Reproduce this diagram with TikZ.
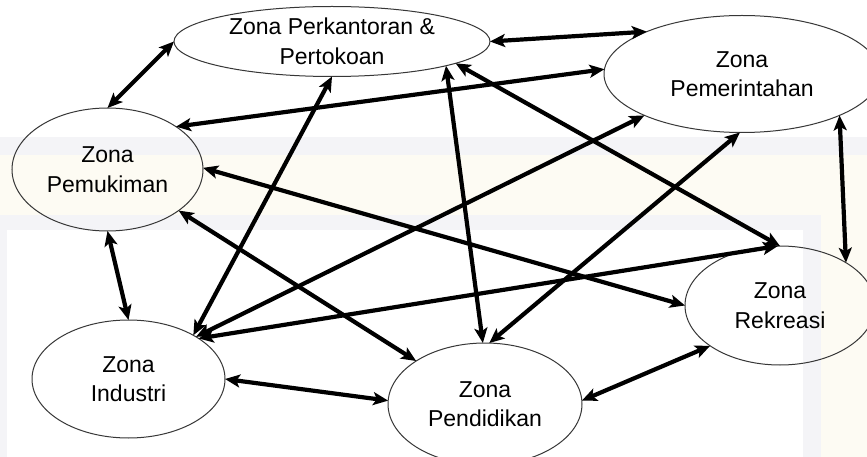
\documentclass[tikz,border=0pt]{standalone}
\usepackage{fontspec}
\setmainfont{Liberation Sans}
\usetikzlibrary{shapes.geometric,arrows.meta}
\definecolor{wmgray}{RGB}{244,244,247}
\definecolor{wmcream}{RGB}{253,251,243}
\definecolor{ringcol}{RGB}{55,55,55}
\tikzset{
  zone/.style={ellipse, draw=ringcol, line width=1pt, inner sep=0pt, outer sep=0pt,
    align=center, font=\fontsize{23}{29.5}\selectfont},
  link/.style={line width=4.2pt, black,
    {Stealth[length=15pt,width=13pt,inset=3.5pt]}-{Stealth[length=15pt,width=13pt,inset=3.5pt]}}
}
\begin{document}
\begin{tikzpicture}[x=1pt,y=-1pt]
\useasboundingbox (0,0) rectangle (867,457);
\clip (0,0) rectangle (867,457);
% faint watermark background
\fill[white] (0,0) rectangle (867,457);
\fill[wmgray] (0,137) rectangle (867,155);
\fill[wmcream] (0,155) rectangle (867,457);
\fill[wmgray] (0,215) rectangle (821,457);
\fill[white] (7,230) rectangle (803,457);
% zones
\node[zone, minimum width=316pt, minimum height=70pt] (kant) at (332,41.5) {Zona Perkantoran \&\\Pertokoan};
\node[zone, minimum width=276pt, minimum height=117pt] (pmr) at (742,74) {Zona\\Pemerintahan};
\node[zone, minimum width=191pt, minimum height=123pt] (muk) at (107.5,169.5) {Zona\\Pemukiman};
\node[zone, minimum width=193pt, minimum height=118pt] (ind) at (128.5,379) {Zona\\Industri};
\node[zone, minimum width=194pt, minimum height=122pt] (ddk) at (485,404) {Zona\\Pendidikan};
\node[zone, minimum width=190pt, minimum height=119pt] (rek) at (780,305.5) {Zona\\Rekreasi};
% connectors
\draw[link] (muk.90) -- (kant.180);
\draw[link] (kant.0) -- (pmr.156);
\draw[link] (muk.32) -- (pmr.178);
\draw[link] (muk.1) -- (rek.180);
\draw[link] (muk.-30) -- (ddk.148);
\draw[link] (muk.-90) -- (ind.90);
\draw[link] (ind.0) -- (ddk.178);
\draw[link] (ddk.2) -- (rek.210);
\draw[link] (pmr.-23) -- (rek.33);
\draw[link] (ind.34) -- (kant.-90);
\draw[link] (ind.32) -- (pmr.203);
\draw[link] (ind.30) -- (rek.92);
\draw[link] (ddk.92) -- (kant.-12);
\draw[link] (ddk.86) -- (pmr.-92);
\draw[link] (kant.-10) -- (rek.90);
\end{tikzpicture}
\end{document}
